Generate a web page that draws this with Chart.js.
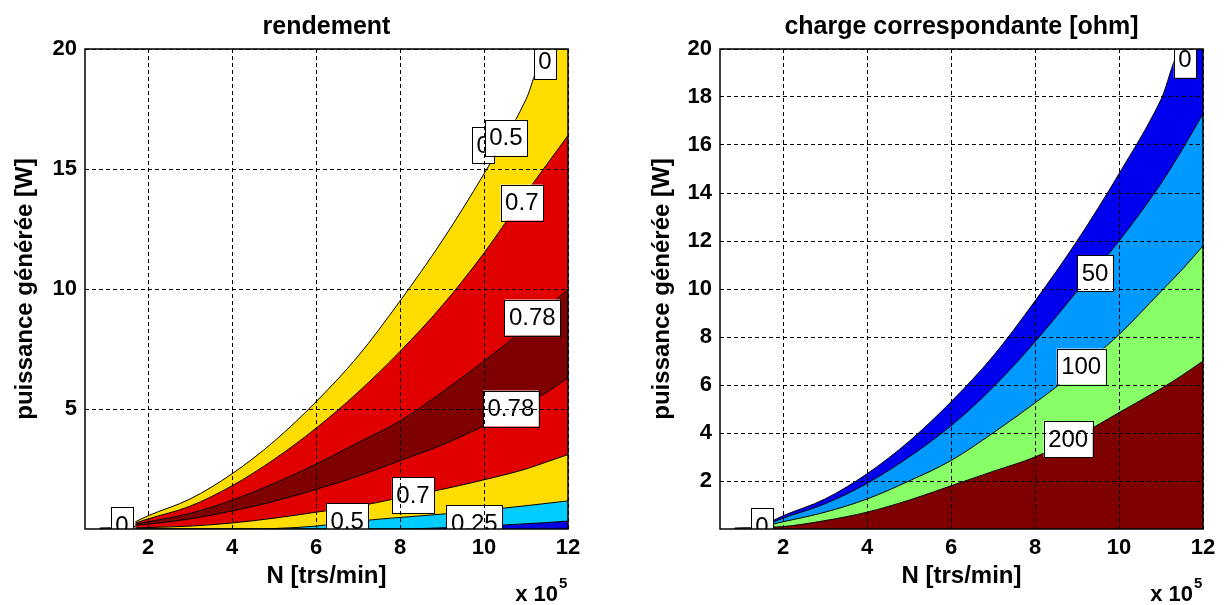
<!DOCTYPE html>
<html>
<head>
<meta charset="utf-8">
<title>rendement / charge correspondante</title>
<script src="https://cdn.jsdelivr.net/npm/chart.js@4.4.1/dist/chart.umd.min.js"></script>
<style>
  body { margin: 0; background: #fff; }
  .panel { position: absolute; top: 0; width: 613px; height: 605px; }
</style>
</head>
<body>
<div class="panel" style="left:0"><canvas id="effChart" width="613" height="605"></canvas></div>
<div class="panel" style="left:613px"><canvas id="loadChart" width="613" height="605"></canvas></div>
<script>
// Speed N (x 1e5 trs/min) at which the contour boundaries were read
const speedN = [1.7, 2, 3, 4, 5, 6, 7, 8, 9, 10, 11, 11.5, 12]

// Power [W] of each contour boundary
const edgeP = [0.3, 0.55, 1.25, 2.3, 3.65, 5.3, 7.2, 9.5, 12.0, 14.8, 17.9, 20, 20] // outer 0 contour
const eff07UpperP = [0.25, 0.42, 0.95, 1.8, 2.9, 4.2, 5.7, 7.4, 9.3, 11.5, 14.0, 15.2, 16.4]
const eff078UpperP = [0.2, 0.3, 0.65, 1.2, 1.9, 2.7, 3.6, 4.5, 5.7, 7.0, 8.4, 9.2, 10.0]
const eff078LowerP = [0.15, 0.2, 0.42, 0.75, 1.15, 1.65, 2.2, 2.85, 3.5, 4.3, 5.2, 5.7, 6.3]
const eff07LowerP = [0.05, 0.06, 0.12, 0.25, 0.45, 0.7, 0.95, 1.3, 1.65, 2.05, 2.5, 2.8, 3.1]
const eff05P = [0, 0, 0, 0, 0.02, 0.12, 0.33, 0.48, 0.62, 0.78, 0.97, 1.07, 1.17]
const eff025P = [0, 0, 0, 0, 0, 0, 0, 0, 0.05, 0.12, 0.22, 0.27, 0.33]

const load50P = [0.25, 0.45, 1.05, 1.9, 3.0, 4.3, 5.9, 7.8, 9.9, 12.0, 14.4, 15.8, 17.3]
const load100P = [0.18, 0.3, 0.7, 1.25, 2.0, 2.85, 4.0, 5.25, 6.6, 8.1, 9.9, 10.8, 11.8]
const load200P = [0.08, 0.1, 0.35, 0.7, 1.2, 1.8, 2.4, 3.0, 3.85, 4.85, 5.85, 6.4, 7.0]

// short piece of the 0 contour left of the domain
const stubN = [0.85, 1.3, 1.7]
const stubP = [0.03, 0.05, 0.1]

// contour labels (text, N, P)
const effLabelText = ['0', '0', '0.5', '0.7', '0.78', '0.78', '0.7', '0.5', '0.25', '0']
const effLabelN = [11.45, 9.98, 10.52, 10.9, 11.15, 10.64, 8.31, 6.74, 9.77, 1.38]
const effLabelP = [19.5, 16.0, 16.3, 13.6, 8.81, 5.02, 1.4, 0.33, 0.25, 0.17]

const loadLabelText = ['0', '50', '100', '200', '0']
const loadLabelN = [11.57, 9.43, 9.1, 8.79, 1.5]
const loadLabelP = [19.55, 10.65, 6.77, 3.75, 0.13]

// ticks
const xTicks = [2, 4, 6, 8, 10, 12]
const effYTicks = [5, 10, 15, 20]
const loadYTicks = [2, 4, 6, 8, 10, 12, 14, 16, 18, 20]

const FAMILY = '"Liberation Sans", Arial, sans-serif'
const tickFont = { family: FAMILY, size: 22, weight: 'bold' }
const axisFont = { family: FAMILY, size: 24, weight: 'bold' }

/**
 * One filled contour band: area between this boundary and the next dataset
 */
function band(values, color, fill) {
    return {
        data: speedN.map((n, i) => ({ x: n, y: values[i] })),
        backgroundColor: color,
        borderColor: '#000',
        borderWidth: 1,
        pointRadius: 0,
        cubicInterpolationMode: 'monotone',
        fill: fill || '+1'
    }
}

function stubLine() {
    return {
        data: stubN.map((n, i) => ({ x: n, y: stubP[i] })),
        borderColor: '#000',
        borderWidth: 1.5,
        pointRadius: 0,
        fill: false
    }
}

/**
 * Draws the white boxed contour labels, clipped to the plot area
 */
function labelPlugin(texts, ns, ps) {
    return {
        id: 'contourLabels',
        afterDatasetsDraw(chart) {
            const { ctx, chartArea, scales } = chart
            ctx.save()
            ctx.beginPath()
            ctx.rect(chartArea.left, chartArea.top, chartArea.width, chartArea.height)
            ctx.clip()
            ctx.font = '24px ' + FAMILY
            ctx.textAlign = 'center'
            ctx.textBaseline = 'middle'
            texts.forEach((t, i) => {
                const px = scales.x.getPixelForValue(ns[i])
                const py = scales.y.getPixelForValue(ps[i])
                const w = ctx.measureText(t).width + 9
                const h = 36
                ctx.fillStyle = '#fff'
                ctx.fillRect(px - w / 2, py - h / 2, w, h)
                ctx.strokeStyle = '#000'
                ctx.lineWidth = 1
                ctx.strokeRect(Math.round(px - w / 2) + 0.5, Math.round(py - h / 2) + 0.5, Math.round(w), h)
                ctx.fillStyle = '#000'
                ctx.fillText(t, px, py + 1)
            })
            ctx.restore()
        }
    }
}

/**
 * Title above the plot, box around it and the x10^5 exponent of the x axis
 */
function framePlugin(title) {
    return {
        id: 'frame',
        afterDraw(chart) {
            const { ctx, chartArea } = chart
            ctx.save()
            ctx.strokeStyle = '#000'
            ctx.lineWidth = 1.5
            ctx.strokeRect(chartArea.left, chartArea.top, chartArea.width, chartArea.height)
            ctx.fillStyle = '#000'
            ctx.textBaseline = 'alphabetic'
            ctx.textAlign = 'center'
            ctx.font = 'bold 25px ' + FAMILY
            ctx.fillText(title, (chartArea.left + chartArea.right) / 2, 34)
            ctx.textAlign = 'right'
            ctx.font = 'bold 22px ' + FAMILY
            ctx.fillText('x 10', chartArea.right - 10, 601)
            ctx.textAlign = 'left'
            ctx.font = 'bold 15px ' + FAMILY
            ctx.fillText('5', chartArea.right - 9, 588)
            ctx.restore()
        }
    }
}

function makeScales(yTicks, yAxisWidth, yTitlePad) {
    return {
        x: {
            type: 'linear',
            min: 0.5,
            max: 12,
            afterBuildTicks: axis => { axis.ticks = xTicks.map(v => ({ value: v })) },
            afterFit: axis => { axis.height = 76 },
            grid: { color: '#000', z: 1, drawTicks: false, lineWidth: 1 },
            border: { display: false, dash: [4, 3] },
            ticks: { color: '#000', padding: 6, font: tickFont, maxRotation: 0, autoSkip: false },
            title: { display: true, text: 'N [trs/min]', color: '#000', font: axisFont, padding: { top: 0, bottom: 14 } }
        },
        y: {
            type: 'linear',
            min: 0,
            max: 20,
            afterBuildTicks: axis => { axis.ticks = yTicks.map(v => ({ value: v })) },
            afterFit: axis => { axis.width = yAxisWidth },
            grid: { color: '#000', z: 1, drawTicks: false, lineWidth: 1 },
            border: { display: false, dash: [4, 3] },
            ticks: { color: '#000', padding: 8, font: tickFont, autoSkip: false },
            title: { display: true, text: 'puissance générée [W]', color: '#000', font: axisFont, padding: { top: yTitlePad, bottom: 0 } }
        }
    }
}

function makeChart(canvasId, datasets, scales, padRight, plugins) {
    return new Chart(document.getElementById(canvasId), {
        type: 'line',
        data: { datasets },
        options: {
            responsive: false,
            animation: false,
            events: [],
            layout: { padding: { top: 49, right: padRight, bottom: 0, left: 0 } },
            scales,
            plugins: {
                legend: { display: false },
                tooltip: { enabled: false },
                filler: { drawTime: 'beforeDatasetsDraw' }
            }
        },
        plugins
    })
}

// left: rendement
makeChart('effChart', [
    band(edgeP, '#FFDD00'),
    band(eff07UpperP, '#E00000'),
    band(eff078UpperP, '#7F0000'),
    band(eff078LowerP, '#E00000'),
    band(eff07LowerP, '#FFDD00'),
    band(eff05P, '#00CCFF'),
    band(eff025P, '#0000E0', 'origin'),
    stubLine()
], makeScales(effYTicks, 85, 11), 45, [
    labelPlugin(effLabelText, effLabelN, effLabelP),
    framePlugin('rendement')
])

// right: charge correspondante
makeChart('loadChart', [
    band(edgeP, '#0000EE'),
    band(load50P, '#0099FF'),
    band(load100P, '#88FF66'),
    band(load200P, '#7F0000', 'origin'),
    stubLine()
], makeScales(loadYTicks, 107, 35), 23, [
    labelPlugin(loadLabelText, loadLabelN, loadLabelP),
    framePlugin('charge correspondante [ohm]')
])
</script>
</body>
</html>
